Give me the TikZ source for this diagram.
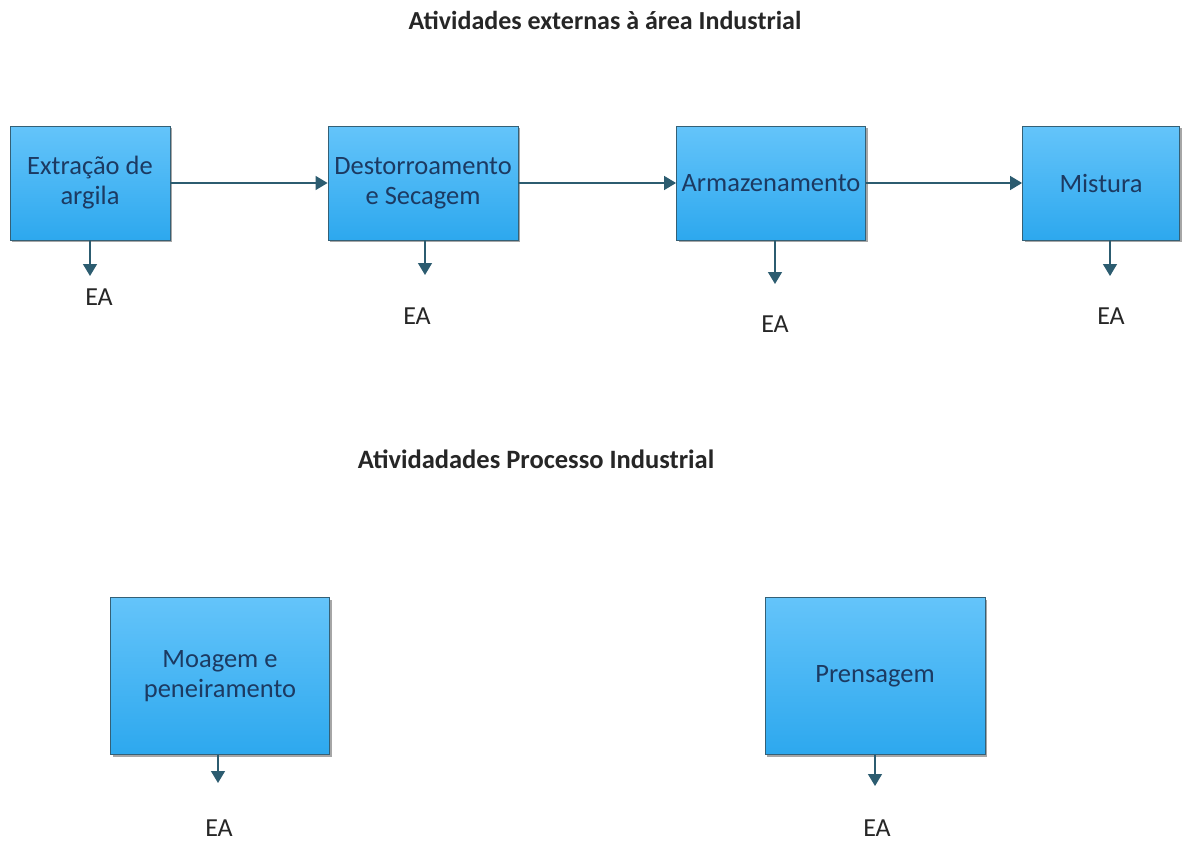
\documentclass[tikz,border=0pt]{standalone}
\usepackage{fontspec}
\setmainfont{Carlito}
\usetikzlibrary{arrows.meta,shadows}
\definecolor{boxtop}{RGB}{100,196,250}
\definecolor{boxbot}{RGB}{45,168,238}
\definecolor{boxline}{RGB}{52,96,118}
\definecolor{boxtext}{RGB}{28,58,98}
\definecolor{flow}{RGB}{44,92,112}
\tikzset{
  stage/.style={draw=boxline, line width=0.9pt, top color=boxtop, bottom color=boxbot,
    text=boxtext, align=center, font=\fontsize{26.5}{30}\selectfont, inner sep=0pt,
    drop shadow={shadow xshift=2pt, shadow yshift=-2pt, fill=black, opacity=0.35}},
  flowarrow/.style={draw=flow, line width=1.4pt, -{Triangle[length=12pt,width=14pt]}},
  ealabel/.style={font=\fontsize{26}{30}\selectfont, text=black!85},
  heading/.style={font=\bfseries\fontsize{26}{30}\selectfont, text=black!85}
}
\begin{document}
\begin{tikzpicture}[x=1pt,y=-1pt]
\useasboundingbox (0,0) rectangle (1183,841);
\fill[white] (0,0) rectangle (1183,841);

% headings
\node[heading] (h1) at (605,20) {Atividades externas à área Industrial};
\node[heading, font=\bfseries\fontsize{26.5}{30}\selectfont] (h2) at (536,459) {Atividadades Processo Industrial};

% stages outside the industrial area
\node[stage, minimum width=160pt, minimum height=114pt] (s1) at (90,183) {Extração de\\argila};
\node[stage, minimum width=190pt, minimum height=114pt] (s2) at (423,183) {Destorroamento\\e Secagem};
\node[stage, minimum width=189pt, minimum height=114pt] (s3) at (771,183) {Armazenamento};
\node[stage, minimum width=157pt, minimum height=114pt] (s4) at (1101,183) {Mistura};

% stages of the industrial process
\node[stage, minimum width=219pt, minimum height=157pt] (s5) at (220,676) {Moagem e\\peneiramento};
\node[stage, minimum width=220pt, minimum height=157pt] (s6) at (875,676) {Prensagem};

% flow between stages
\draw[flowarrow] (s1.east) -- (s2.west);
\draw[flowarrow] (s2.east) -- (s3.west);
\draw[flowarrow] (s3.east) -- (s4.west);

% environmental aspects
\node[ealabel] (e1) at (99,297) {EA};
\node[ealabel] (e2) at (417,316) {EA};
\node[ealabel] (e3) at (775,324) {EA};
\node[ealabel] (e4) at (1111,316) {EA};
\node[ealabel] (e5) at (219,828) {EA};
\node[ealabel] (e6) at (877,828) {EA};

\coordinate (t1) at (90,276);
\coordinate (t2) at (425,275);
\coordinate (t3) at (775,284);
\coordinate (t4) at (1110,276);
\coordinate (t5) at (218,783);
\coordinate (t6) at (875,786);

\draw[flowarrow] (s1.south -| t1) -- (t1);
\draw[flowarrow] (s2.south -| t2) -- (t2);
\draw[flowarrow] (s3.south -| t3) -- (t3);
\draw[flowarrow] (s4.south -| t4) -- (t4);
\draw[flowarrow] (s5.south -| t5) -- (t5);
\draw[flowarrow] (s6.south -| t6) -- (t6);
\end{tikzpicture}
\end{document}
